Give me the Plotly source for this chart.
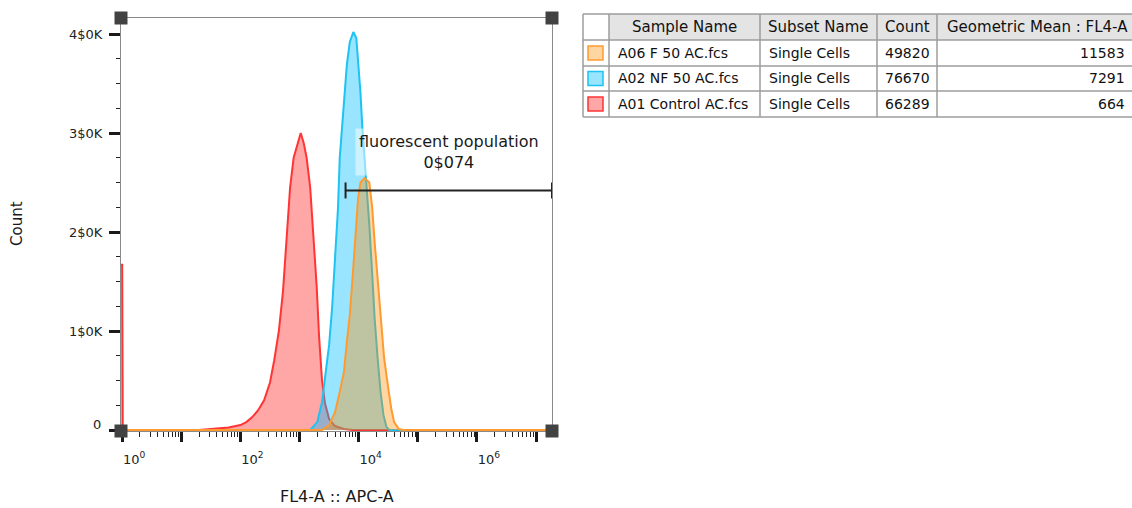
import math
import numpy as np
import plotly.graph_objects as go

# ---------------- data ----------------
# x positions are log10 of FL4-A :: APC-A channel values, y are counts
red_log = [-0.02, 0.0, 0.01, 1.30, 1.50, 1.80, 2.00, 2.10, 2.20, 2.30, 2.40, 2.50, 2.57,
           2.65, 2.72, 2.78, 2.84, 2.90, 2.97, 3.02, 3.07, 3.12, 3.18, 3.24, 3.29, 3.33,
           3.38, 3.43, 3.50, 3.60, 3.75, 3.90, 7.27]
red_count = [1670, 1670, 0, 0, 10, 25, 50, 80, 130, 200, 300, 480, 700,
             1000, 1400, 1900, 2450, 2750, 2900, 3000, 2900, 2750, 2450, 1950, 1450, 950,
             500, 270, 110, 40, 10, 0, 0]

blue_log = [-0.02, 3.18, 3.30, 3.38, 3.43, 3.50, 3.55, 3.60, 3.65, 3.68, 3.75, 3.80, 3.85,
            3.91, 3.96, 3.99, 4.03, 4.06, 4.10, 4.13, 4.18, 4.23, 4.27, 4.32, 4.37, 4.42,
            4.47, 4.52, 7.27]
blue_count = [0, 0, 80, 280, 525, 860, 1230, 1740, 2240, 2750, 3250, 3690, 3920,
              4020, 3960, 3760, 3410, 3080, 2750, 2470, 2070, 1565, 1130, 730, 385, 150,
              30, 0, 0]

orange_log = [-0.02, 3.38, 3.50, 3.60, 3.68, 3.75, 3.80, 3.85, 3.90, 3.95, 3.99, 4.03, 4.10,
              4.18, 4.23, 4.27, 4.33, 4.38, 4.43, 4.50, 4.55, 4.60, 4.68, 4.75, 7.27]
orange_count = [0, 0, 50, 180, 385, 585, 890, 1160, 1565, 2000, 2340, 2500, 2545,
                2500, 2240, 1900, 1465, 1060, 730, 425, 220, 80, 10, 0, 0]

# table
sample_names = ["A06 F 50 AC.fcs", "A02 NF 50 AC.fcs", "A01 Control AC.fcs"]
subset_names = ["Single Cells", "Single Cells", "Single Cells"]
counts = ["49820", "76670", "66289"]
geo_means = ["11583", "7291", "664"]
headers = ["Sample Name", "Subset Name", "Count", "Geometric Mean : FL4-A"]

# axis ticks
x_major_exp = [0, 1, 2, 3, 4, 5, 6, 7]
x_labels = ["10<sup>0</sup>", "", "10<sup>2</sup>", "", "10<sup>4</sup>", "", "10<sup>6</sup>", ""]
y_tickvals = [0, 1000, 2000, 3000, 4000]
y_ticktext = ["", "1$0K", "2$0K", "3$0K", "4$0K"]
y_zero_label = "0"

# gate
gate_lo = 6000
gate_y = 2420
gate_label = "fluorescent population<br>0$074"

x_title = "FL4-A :: APC-A"
y_title = "Count"

# ---------------- styling / layout ----------------
W, H = 1132, 508
L, R, T, B = 121, 552, 18, 431
x_range = [-0.02, 7.27]
y_range = [-10, 4162]
FONT = "DejaVu Sans"


def px(x):
    return x / W


def py(y):
    return 1 - y / H


series = [
    (red_log, red_count, "#ff3535", "rgba(255,0,0,0.35)"),
    (blue_log, blue_count, "#1cc3f3", "rgba(0,191,255,0.40)"),
    (orange_log, orange_count, "#ff9a30", "rgba(255,140,0,0.37)"),
]

fig = go.Figure()
for lx, cnt, lc, fc in series:
    fig.add_trace(go.Scatter(
        x=np.power(10.0, np.array(lx)), y=cnt, mode="lines",
        line=dict(color=lc, width=2), fill="tozeroy", fillcolor=fc,
        hoverinfo="skip", showlegend=False))

minor_x = [k * 10 ** d for d in range(0, 8) for k in range(2, 10)]

fig.update_xaxes(
    type="log", range=x_range, domain=[px(L), px(R)],
    showgrid=False, zeroline=False,
    showline=True, linecolor="#8a8a8a", linewidth=1, mirror=True, layer="below traces",
    tickmode="array", tickvals=[10 ** e for e in x_major_exp], ticktext=x_labels,
    ticks="outside", ticklen=10, tickwidth=3, tickcolor="#1a1a1a",
    ticklabelshift=12, ticklabelstandoff=6,
    tickfont=dict(family=FONT, size=13, color="#222"),
    minor=dict(tickmode="array", tickvals=minor_x, ticks="outside", ticklen=5,
               tickwidth=1, tickcolor="#222", showgrid=False),
)
fig.update_yaxes(
    range=y_range, domain=[py(B), py(T)],
    showgrid=False, zeroline=False,
    showline=True, linecolor="#8a8a8a", linewidth=1, mirror=True, layer="below traces",
    tickmode="array", tickvals=y_tickvals, ticktext=y_ticktext,
    ticks="outside", ticklen=11, tickwidth=3, tickcolor="#1a1a1a",
    ticklabelstandoff=4,
    tickfont=dict(family=FONT, size=13, color="#222"),
    minor=dict(dtick=250, ticks="outside", ticklen=4, tickwidth=1, tickcolor="#222",
               showgrid=False),
)

shapes = []
# gate (shape x on this log axis is given in data units)
x_max = 10 ** x_range[1]
shapes.append(dict(type="line", xref="x", yref="y", x0=gate_lo, x1=x_max, y0=gate_y, y1=gate_y,
                   line=dict(color="#222", width=2)))
for xv in (gate_lo, x_max):
    shapes.append(dict(type="line", xref="x", yref="y", x0=xv, x1=xv, ysizemode="pixel",
                       yanchor=gate_y, y0=-8, y1=8, line=dict(color="#222", width=2)))

# corner squares
for cx, cy in [(L, T), (R, T), (L, B), (R, B)]:
    shapes.append(dict(type="rect", xref="paper", yref="paper", xsizemode="pixel",
                       ysizemode="pixel", xanchor=px(cx), yanchor=py(cy),
                       x0=-6.5, x1=6.5, y0=-6.5, y1=6.5,
                       fillcolor="#424242", line=dict(width=0)))

# table
col_edges = [583, 609, 760, 877, 937, 1132]
row_edges = [14, 40, 66, 91, 117]
grid_col = "#9c9c9c"
shapes.append(dict(type="rect", xref="paper", yref="paper", x0=px(609), x1=px(1132),
                   y0=py(40), y1=py(14), fillcolor="#e4e4e4", line=dict(width=0), layer="below"))
for ce in col_edges[:-1]:
    shapes.append(dict(type="line", xref="paper", yref="paper", x0=px(ce), x1=px(ce),
                       y0=py(row_edges[0]), y1=py(row_edges[-1]),
                       line=dict(color=grid_col, width=1.5)))
for re_ in row_edges:
    shapes.append(dict(type="line", xref="paper", yref="paper", x0=px(col_edges[0]),
                       x1=px(col_edges[-1]), y0=py(re_), y1=py(re_),
                       line=dict(color=grid_col, width=1.5)))

annotations = []
hfont = dict(family=FONT, size=15, color="#111")
tfont = dict(family=FONT, size=14, color="#111")
header_centers = [684.5, 818.5, 907, 1037]
for h, cx in zip(headers, header_centers):
    annotations.append(dict(text=h, xref="paper", yref="paper", x=px(cx),
                            y=py((row_edges[0] + row_edges[1]) / 2), xanchor="center",
                            yanchor="middle", showarrow=False, font=hfont))
swatch = [("rgba(255,140,0,0.37)", "#ff9a30"), ("rgba(0,191,255,0.40)", "#1cc3f3"),
          ("rgba(255,0,0,0.35)", "#ff3535")]
for r in range(3):
    yc = (row_edges[r + 1] + row_edges[r + 2]) / 2
    fcol, lcol = swatch[r]
    shapes.append(dict(type="rect", xref="paper", yref="paper", x0=px(588), x1=px(603),
                       y0=py(yc + 7), y1=py(yc - 7), fillcolor=fcol,
                       line=dict(color=lcol, width=1.5)))
    row = [(sample_names[r], col_edges[1] + 7, "left"),
           (subset_names[r], col_edges[2] + 7, "left"),
           (counts[r], col_edges[3] + 6, "left"),
           (geo_means[r], col_edges[5] - 5, "right")]
    for txt, xx, anc in row:
        annotations.append(dict(text=txt, xref="paper", yref="paper", x=px(xx), y=py(yc),
                                xanchor=anc, yanchor="middle", showarrow=False, font=tfont))

# "0" label of the count axis sits a little above its tick in the reference
annotations.append(dict(text=y_zero_label, xref="paper", yref="paper", x=px(103), y=py(424),
                        xanchor="right", yanchor="middle", showarrow=False,
                        font=dict(family=FONT, size=13, color="#222")))

# gate label (annotation x on a log axis is given in log10 units)
annotations.append(dict(text=gate_label, xref="x", yref="y",
                        x=(math.log10(gate_lo) + x_range[1]) / 2,
                        y=gate_y, yanchor="bottom", yshift=14, showarrow=False,
                        bgcolor="rgba(255,255,255,0.5)", borderpad=3,
                        font=dict(family=FONT, size=16, color="#1a1a1a")))
# axis titles
annotations.append(dict(text=x_title, xref="paper", yref="paper", x=px((L + R) / 2), y=py(507),
                        xanchor="center", yanchor="bottom", showarrow=False, borderpad=0,
                        font=dict(family=FONT, size=16, color="#1a1a1a")))
annotations.append(dict(text=y_title, xref="paper", yref="paper", x=px(17), y=py(224),
                        xanchor="center", yanchor="middle", showarrow=False, textangle=-90,
                        font=dict(family=FONT, size=15, color="#1a1a1a")))

fig.update_layout(width=W, height=H, autosize=False,
                  margin=dict(l=0, r=0, t=0, b=0, pad=0),
                  plot_bgcolor="white", paper_bgcolor="white",
                  shapes=shapes, annotations=annotations, showlegend=False)

post = ("document.body.style.margin='0';"
        "document.documentElement.style.overflow='hidden';"
        "document.body.style.overflow='hidden';")
fig.write_html("out.html", config={"displayModeBar": False, "responsive": False},
               post_script=post)
